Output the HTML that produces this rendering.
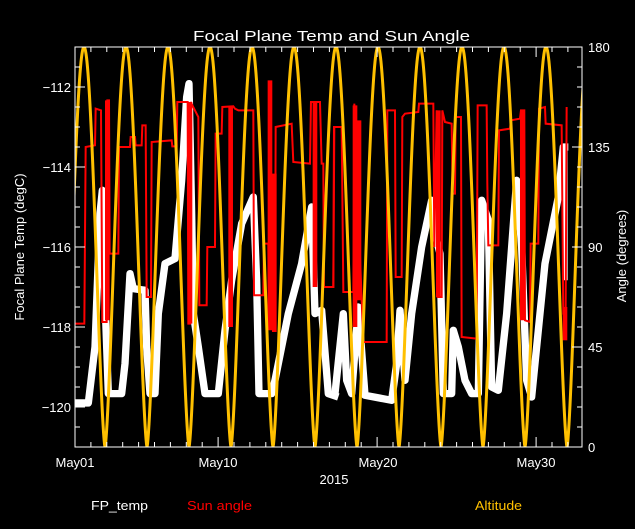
<!DOCTYPE html>
<html><head><meta charset="utf-8"><style>
html,body{margin:0;padding:0;background:#000;}
svg{display:block;font-family:"Liberation Sans",sans-serif;}
</style></head><body>
<svg id="s" width="635" height="529" viewBox="0 0 635 529" xmlns="http://www.w3.org/2000/svg">
<rect width="635" height="529" fill="#000"/>
<defs><clipPath id="c"><rect x="75" y="47" width="507" height="400"/></clipPath></defs>
<g clip-path="url(#c)">
<g transform="translate(75,47) scale(0.3333)" fill="none" stroke="#fff" stroke-width="22" stroke-linejoin="round">
<polyline points="-10,1068 40,1068 60,900 75,500 82,430 88,700 95,900 100,1040 140,1040 150,950 165,680 175,725 210,730 215,900 225,1040 240,1040 250,800 270,650 300,635 320,400 335,150 342,110 350,500 355,800 370,900 390,1040 430,1040 450,850 470,700 500,530 535,450 545,700 552,1040 590,1040 600,1000 640,800 680,650 710,480 720,800 740,790 760,1040 790,1050"/>
</g>
<g transform="translate(325,47) scale(0.3333)" fill="none" stroke="#fff" stroke-width="22" stroke-linejoin="round">
<polyline points="30,1040 55,800 65,1000 80,1040 100,780 120,1045 200,1060 215,950 225,790 240,1000 260,800 290,600 320,460 335,580 345,620 355,1040 380,1040 385,850 400,900 420,1000 440,1040 460,1040 470,460 490,520 500,1020 520,1030 545,800 575,400 590,600 605,1000 620,1050 660,650 700,450 715,300 730,300"/>
<polyline points="720,310 720,700" stroke-width="16"/>
</g>
<g transform="translate(75,47) scale(0.3333)" fill="none" stroke="#f00" stroke-width="6">
<polyline points="-10,830 28,830 32,300 60,295 62,185 78,190 82,825 95,825 97,160 102,160 104,620 130,620 132,300 165,300 167,270 180,270 182,295 200,295 202,235 212,235 215,750 228,750 230,285 290,280 292,298 305,298 307,165 338,165 340,830 345,830 347,165 370,210 373,775 395,775 397,600 420,600 422,260 440,260 442,180 475,178 480,185 490,190 535,190 537,745 565,745 567,590 580,590 582,840 600,840 602,240 650,230 655,345 705,350 708,165 735,165 740,350 745,350 747,720 775,720 778,240 790,240"/>
<g stroke-width="14">
<line x1="97" y1="160" x2="97" y2="820"/><line x1="345" y1="165" x2="345" y2="830"/><line x1="467" y1="180" x2="467" y2="840"/><line x1="585" y1="100" x2="585" y2="850"/><line x1="598" y1="380" x2="598" y2="855"/><line x1="720" y1="165" x2="720" y2="720"/>
</g>
</g>
<g transform="translate(325,47) scale(0.3333)" fill="none" stroke="#f00" stroke-width="6">
<polyline points="0,720 25,720 27,240 50,240 55,735 85,735 88,170 110,760 115,885 185,885 187,190 210,190 212,690 230,690 232,210 240,200 280,195 282,170 325,170 328,600 335,190 338,750 350,750 352,190 360,225 380,230 383,440 390,440 392,210 408,210 410,870 455,875 458,175 485,175 487,410 490,595 520,595 522,250 555,245 558,220 585,215 588,190 598,190 600,820 615,825 617,590 640,590 642,185 660,180 662,230 710,235 715,800 722,800 725,180"/>
<g stroke-width="14">
<line x1="90" y1="175" x2="90" y2="840"/><line x1="102" y1="220" x2="102" y2="760"/><line x1="340" y1="190" x2="340" y2="750"/><line x1="592" y1="190" x2="592" y2="820"/><line x1="720" y1="780" x2="720" y2="880"/>
</g>
</g>
<path id="alt" fill="none" stroke="#ffc000" stroke-width="3" stroke-linejoin="round"/>
</g>
<g id="ax" stroke="#fff" stroke-width="1" fill="none"></g>
<g fill="#fff" font-size="13" id="lbl">
<text x="193" y="41" textLength="277" lengthAdjust="spacingAndGlyphs" font-size="15">Focal Plane Temp and Sun Angle</text>
<text x="71" y="92" text-anchor="end">−112</text>
<text x="71" y="172" text-anchor="end">−114</text>
<text x="71" y="252" text-anchor="end">−116</text>
<text x="71" y="332" text-anchor="end">−118</text>
<text x="71" y="412" text-anchor="end">−120</text>
<text x="588" y="452">0</text>
<text x="588" y="352">45</text>
<text x="588" y="252">90</text>
<text x="588" y="152">135</text>
<text x="588" y="52">180</text>
<text x="75" y="467" text-anchor="middle">May01</text>
<text x="218" y="467" text-anchor="middle">May10</text>
<text x="378" y="467" text-anchor="middle">May20</text>
<text x="536" y="467" text-anchor="middle">May30</text>
<text x="334" y="484" text-anchor="middle">2015</text>
<text x="91" y="510" textLength="57" lengthAdjust="spacingAndGlyphs">FP_temp</text>
<text x="187" y="510" fill="#f00" textLength="65" lengthAdjust="spacingAndGlyphs">Sun angle</text>
<text x="475" y="510" fill="#ffc000" textLength="47" lengthAdjust="spacingAndGlyphs">Altitude</text>
<text transform="translate(24,247) rotate(-90)" text-anchor="middle">Focal Plane Temp (degC)</text>
<text transform="translate(626,256) rotate(-90)" text-anchor="middle">Angle (degrees)</text>
</g>
</svg>
<script>
var d="";
for(var x=60;x<=590;x+=0.5){
 var t=((x-105)/42)%1; if(t<0)t+=1;
 var a=Math.pow(Math.sin(Math.PI*t),1.5);
 var y=447-400*a;
 d+=(d?"L":"M")+x.toFixed(1)+","+y.toFixed(1);
}
document.getElementById("alt").setAttribute("d",d);
var g=document.getElementById("ax"),s="M75,47H582V447H75Z";
for(var i=0;i<=20;i++){var y=47+20*i;var L=(i%4==2)?10:5;s+="M75,"+y+"h"+L;}
for(var i=0;i<=20;i++){var y=47+20*i;var L=(i%5==0)?10:5;s+="M582,"+y+"h-"+L;}
for(var k=0;k<=32;k++){var x=75+15.9*k;var L=(k==9||k==19||k==29)?10:5;
 if(x>582)break;s+="M"+x.toFixed(1)+",447v-"+L+"M"+x.toFixed(1)+",47v"+L;}
var p=document.createElementNS("http://www.w3.org/2000/svg","path");p.setAttribute("d",s);g.appendChild(p);
</script>
</body></html>
